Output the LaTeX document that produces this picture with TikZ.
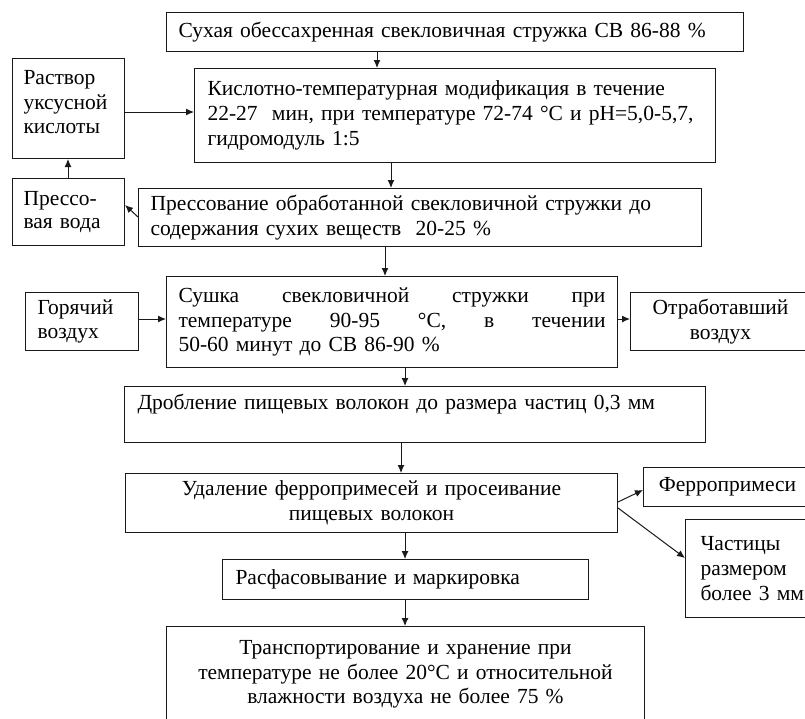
\documentclass[tikz,border=0pt]{standalone}
\usepackage{fontspec}
\setmainfont{Liberation Serif}
\usetikzlibrary{arrows.meta}
\begin{document}
\begin{tikzpicture}[x=1pt,y=-1pt,
  bx/.style={draw=black!90, line width=1pt, rectangle, anchor=north west,
    inner ysep=0pt, font=\fontsize{21.5}{24.7}\selectfont},
  arr/.style={draw=black!90, line width=1pt, -{Latex[length=8pt,width=7pt]}}]
\useasboundingbox (0,0) rectangle (805,718);
% boxes
\node[bx, minimum height=39pt, inner xsep=12pt, text width=553pt, align=left] (b1) at (166,12)
  {Сухая обессахренная свекловичная стружка СВ 86-88 \%};
\node[bx, minimum height=94pt, inner xsep=13pt, text width=495pt, align=left] (b2) at (194,68)
  {Кислотно-температурная модификация в течение\\22-27\ \ мин, при температуре 72-74 °C и pH=5,0-5,7,\\гидромодуль 1:5};
\node[bx, minimum height=100pt, inner xsep=11pt, text width=90pt, align=left] (rast) at (12,58)
  {Раствор\\уксусной\\кислоты\\[-12pt]\mbox{}};
\node[bx, minimum height=67pt, inner xsep=11pt, text width=90pt, align=left, font=\fontsize{21.5}{23}\selectfont] (pv) at (12,178)
  {Прессо-\\вая вода};
\node[bx, minimum height=58pt, inner xsep=12pt, text width=539pt, align=left] (press) at (138,188)
  {Прессование обработанной свекловичной стружки до\\содержания сухих веществ\ \ 20-25 \%};
\node[bx, minimum height=91pt, inner xsep=12pt, text width=427pt, align=left] (sush) at (166,276)
  {\leavevmode\hbox to 427pt{Сушка\hfill свекловичной\hfill стружки\hfill при}\\
   \leavevmode\hbox to 427pt{температуре\hfill 90-95\hfill °C,\hfill в\hfill течении}\\
   50-60 минут до СВ 86-90 \%};
\node[bx, minimum height=58pt, inner xsep=12pt, text width=89pt, align=left] (gor) at (25,292)
  {Горячий\\воздух};
\node[bx, minimum height=58pt, inner xsep=10pt, text width=160pt, align=center] (otr) at (630,292)
  {Отработавший\\воздух};
\node[bx, minimum height=56pt, inner xsep=13pt, text width=555pt, align=left] (drob) at (124,386)
  {Дробление пищевых волокон до размера частиц 0,3 мм\\\mbox{}};
\node[bx, minimum height=59pt, inner xsep=12pt, text width=468pt, align=center] (udal) at (125,473)
  {Удаление ферропримесей и просеивание\\пищевых волокон};
\node[bx, minimum height=39pt, inner xsep=10pt, text width=148pt, align=center] (ferro) at (643,467)
  {Ферропримеси};
\node[bx, minimum height=98pt, inner xsep=15pt, text width=110pt, align=left] (chast) at (685,519)
  {Частицы\\размером\\более 3 мм};
\node[bx, minimum height=40pt, inner xsep=13pt, text width=340pt, align=left] (rasf) at (222,559)
  {Расфасовывание и маркировка};
\node[bx, minimum height=96pt, inner xsep=12pt, text width=454pt, align=center] (trans) at (166,626)
  {Транспортирование и хранение при\\температуре не более 20°C и относительной\\влажности воздуха не более 75 \%};
% connectors
\draw[arr] (377,0 |- b1.south) -- (377,0 |- b2.north);
\draw[arr] (0,112 -| rast.east) -- (0,112 -| b2.west);
\draw[arr] (68,0 |- pv.north) -- (68,0 |- rast.south);
\draw[arr] (391,0 |- b2.south) -- (391,0 |- press.north);
\draw[arr] (0,217 -| press.west) -- (0,205 -| pv.east);
\draw[arr] (385,0 |- press.south) -- (385,0 |- sush.north);
\draw[arr] (0,319 -| gor.east) -- (0,319 -| sush.west);
\draw[arr] (0,319 -| sush.east) -- (0,319 -| otr.west);
\draw[arr] (405,0 |- sush.south) -- (405,0 |- drob.north);
\draw[arr] (401,0 |- drob.south) -- (401,0 |- udal.north);
\draw[arr] (0,502 -| udal.east) -- (0,490 -| ferro.west);
\draw[arr] (0,508 -| udal.east) -- (0,558 -| chast.west);
\draw[arr] (405,0 |- udal.south) -- (405,0 |- rasf.north);
\draw[arr] (405,0 |- rasf.south) -- (405,0 |- trans.north);
\end{tikzpicture}
\end{document}
